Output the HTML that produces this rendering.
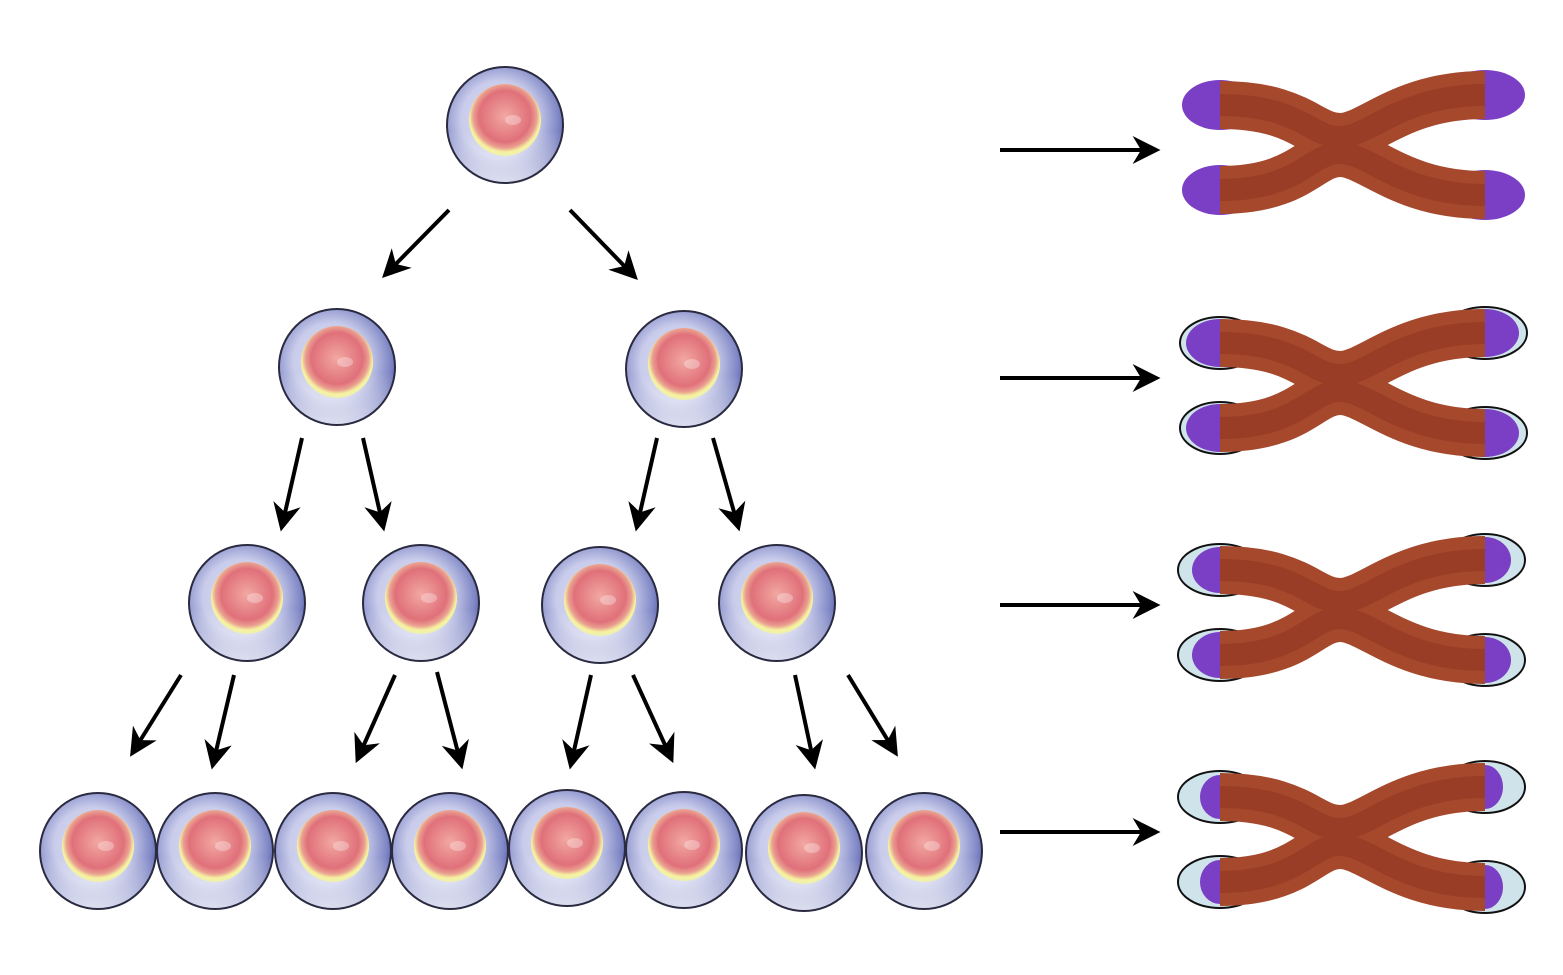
<!DOCTYPE html>
<html><head><meta charset="utf-8"><style>html,body{margin:0;padding:0;background:#fff}svg{display:block}</style></head>
<body>
<svg width="1563" height="975" viewBox="0 0 1563 975" xmlns="http://www.w3.org/2000/svg">
<defs>
<radialGradient id="cell" cx="0.45" cy="0.45" r="0.6">
<stop offset="0" stop-color="#e3e5f5"/><stop offset="0.55" stop-color="#c8cbea"/><stop offset="0.85" stop-color="#8088c6"/><stop offset="1" stop-color="#4f58a6"/>
</radialGradient>
<linearGradient id="shine" x1="0" y1="0" x2="0" y2="1"><stop offset="0.55" stop-color="#fff" stop-opacity="0"/><stop offset="1" stop-color="#fff" stop-opacity="0.75"/></linearGradient>
<radialGradient id="nuc" cx="0.5" cy="0.45" r="0.55">
<stop offset="0" stop-color="#f2a8a2"/><stop offset="0.65" stop-color="#e0707a"/><stop offset="0.8" stop-color="#eaa090"/><stop offset="0.9" stop-color="#f5f2a0"/><stop offset="1" stop-color="#eef0b0"/>
</radialGradient>
<marker id="ah" viewBox="0 0 10 10" refX="8" refY="5" markerWidth="7" markerHeight="7" orient="auto" markerUnits="strokeWidth">
<path d="M0,0 L10,5 L0,10 L3,5 Z" fill="#000"/></marker>
<g id="c">
<ellipse cx="0" cy="0" rx="58" ry="58" fill="url(#cell)" stroke="#2a2a40" stroke-width="2"/>
<ellipse cx="0" cy="0" rx="57" ry="57" fill="url(#shine)"/>
<circle cx="0" cy="-5" r="36" fill="url(#nuc)"/>
<ellipse cx="8" cy="-5" rx="8" ry="5" fill="#fff" opacity="0.3"/>
</g>
<g id="body" fill="none">
<path d="M1220,-35 C1300,-35 1310,-3 1340,-3 C1370,-3 1400,-45 1485,-45" stroke="#a5482c" stroke-width="48"/>
<path d="M1220,50 C1300,50 1310,13 1340,13 C1370,13 1400,55 1485,55" stroke="#a5482c" stroke-width="48"/>
<path d="M1220,-35 C1300,-35 1310,-3 1340,-3 C1370,-3 1400,-45 1485,-45 M1220,50 C1300,50 1310,13 1340,13 C1370,13 1400,55 1485,55" stroke="#8f3220" stroke-width="22" opacity="0.5"/>
</g>
</defs>

<g stroke="#000" stroke-width="4" marker-end="url(#ah)">
<line x1="449" y1="210" x2="386" y2="274"/>
<line x1="570" y1="210" x2="634" y2="276"/>
<line x1="302" y1="438" x2="282" y2="526"/>
<line x1="363" y1="438" x2="383" y2="526"/>
<line x1="657" y1="438" x2="637" y2="526"/>
<line x1="713" y1="438" x2="738" y2="526"/>
<line x1="181" y1="675" x2="133" y2="752"/>
<line x1="234" y1="675" x2="213" y2="764"/>
<line x1="395" y1="675" x2="358" y2="758"/>
<line x1="437" y1="672" x2="461" y2="764"/>
<line x1="591" y1="675" x2="571" y2="764"/>
<line x1="633" y1="675" x2="671" y2="758"/>
<line x1="795" y1="675" x2="814" y2="764"/>
<line x1="848" y1="675" x2="895" y2="752"/>
<line x1="1000" y1="150" x2="1155" y2="150"/>
<line x1="1000" y1="378" x2="1155" y2="378"/>
<line x1="1000" y1="605" x2="1155" y2="605"/>
<line x1="1000" y1="832" x2="1155" y2="832"/>
</g>

<use href="#c" x="505" y="125"/>
<use href="#c" x="337" y="367"/>
<use href="#c" x="684" y="369"/>
<use href="#c" x="247" y="603"/>
<use href="#c" x="421" y="603"/>
<use href="#c" x="600" y="605"/>
<use href="#c" x="777" y="603"/>
<use href="#c" x="98" y="851"/>
<use href="#c" x="215" y="851"/>
<use href="#c" x="333" y="851"/>
<use href="#c" x="450" y="851"/>
<use href="#c" x="567" y="848"/>
<use href="#c" x="684" y="850"/>
<use href="#c" x="804" y="853"/>
<use href="#c" x="924" y="851"/>

<g transform="translate(0,140)">
<g fill="#7a3fc4">
<ellipse cx="1220" cy="-35" rx="38" ry="25"/><ellipse cx="1220" cy="50" rx="38" ry="25"/>
<ellipse cx="1485" cy="-45" rx="40" ry="25"/><ellipse cx="1485" cy="55" rx="40" ry="25"/>
</g>
<use href="#body"/>
</g>
<g transform="translate(0,378)">
<g fill="#cfe4ea" stroke="#111" stroke-width="2">
<ellipse cx="1220" cy="-35" rx="40" ry="26"/><ellipse cx="1220" cy="50" rx="40" ry="26"/>
<ellipse cx="1485" cy="-45" rx="42" ry="26"/><ellipse cx="1485" cy="55" rx="42" ry="26"/>
</g>
<g fill="#7a3fc4">
<ellipse cx="1220" cy="-35" rx="34" ry="24"/><ellipse cx="1220" cy="50" rx="34" ry="24"/>
<ellipse cx="1485" cy="-45" rx="34" ry="24"/><ellipse cx="1485" cy="55" rx="34" ry="24"/>
</g>
<use href="#body"/>
</g>
<g transform="translate(0,605)">
<g fill="#cfe4ea" stroke="#111" stroke-width="2">
<ellipse cx="1220" cy="-35" rx="42" ry="26"/><ellipse cx="1220" cy="50" rx="42" ry="26"/>
<ellipse cx="1485" cy="-45" rx="40" ry="26"/><ellipse cx="1485" cy="55" rx="40" ry="26"/>
</g>
<g fill="#7a3fc4">
<ellipse cx="1220" cy="-35" rx="28" ry="23"/><ellipse cx="1220" cy="50" rx="28" ry="23"/>
<ellipse cx="1485" cy="-45" rx="26" ry="23"/><ellipse cx="1485" cy="55" rx="26" ry="23"/>
</g>
<use href="#body"/>
</g>
<g transform="translate(0,832)">
<g fill="#cfe4ea" stroke="#111" stroke-width="2">
<ellipse cx="1220" cy="-35" rx="42" ry="26"/><ellipse cx="1220" cy="50" rx="42" ry="26"/>
<ellipse cx="1485" cy="-45" rx="40" ry="26"/><ellipse cx="1485" cy="55" rx="40" ry="26"/>
</g>
<g fill="#7a3fc4">
<ellipse cx="1220" cy="-35" rx="20" ry="22"/><ellipse cx="1220" cy="50" rx="20" ry="22"/>
<ellipse cx="1485" cy="-45" rx="18" ry="22"/><ellipse cx="1485" cy="55" rx="18" ry="22"/>
</g>
<use href="#body"/>
</g>
</svg>
</body></html>
